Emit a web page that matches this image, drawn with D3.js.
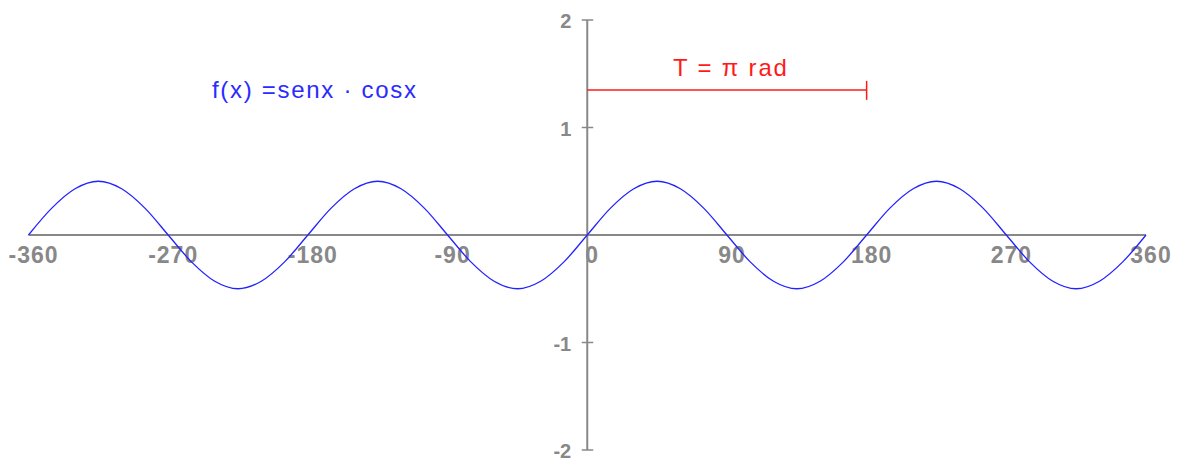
<!DOCTYPE html>
<html>
<head>
<meta charset="utf-8">
<script src="https://cdn.jsdelivr.net/npm/d3@7"></script>
<style>
  body { margin: 0; background: #fff; }
  text { font-family: "Liberation Sans", Arial, sans-serif; }
</style>
</head>
<body>
<div id="chart"></div>
<script>
const xDeg = [-360,-345,-330,-315,-300,-285,-270,-255,-240,-225,-210,-195,
  -180,-165,-150,-135,-120,-105,-90,-75,-60,-45,-30,-15,
  0,15,30,45,60,75,90,105,120,135,150,165,
  180,195,210,225,240,255,270,285,300,315,330,345,360];
const yVal = [0,0.25,0.43,0.5,0.43,0.25,0,-0.25,-0.43,-0.5,-0.43,-0.25,
  0,0.25,0.43,0.5,0.43,0.25,0,-0.25,-0.43,-0.5,-0.43,-0.25,
  0,0.25,0.43,0.5,0.43,0.25,0,-0.25,-0.43,-0.5,-0.43,-0.25,
  0,0.25,0.43,0.5,0.43,0.25,0,-0.25,-0.43,-0.5,-0.43,-0.25,0];
const xTicks = [-360,-270,-180,-90,0,90,180,270,360];
const yTicks = [-2,-1,1,2];
const period = [0, 180]; // T = pi rad
const periodY = 1.35;

const width = 1184, height = 462;
const svg = d3.select("#chart").append("svg")
  .attr("width", width)
  .attr("height", height);

const x = d3.scaleLinear().domain([-360, 360]).range([28.5, 1146]);
const y = d3.scaleLinear().domain([-2, 2]).range([450, 20]);
const grey = "#888888";

// x axis line
svg.append("line")
  .attr("x1", x(-360)).attr("x2", x(360))
  .attr("y1", y(0)).attr("y2", y(0))
  .attr("stroke", grey).attr("stroke-width", 2);

// y axis line
svg.append("line")
  .attr("x1", x(0)).attr("x2", x(0))
  .attr("y1", y(2)).attr("y2", y(-2))
  .attr("stroke", grey).attr("stroke-width", 2);

// y ticks
svg.selectAll(".ytick")
  .data(yTicks)
  .join("line")
  .attr("x1", x(0) - 5.5)
  .attr("x2", x(0) + 6)
  .attr("y1", d => y(d)).attr("y2", d => y(d))
  .attr("stroke", grey).attr("stroke-width", 1.5);

svg.selectAll(".ylab")
  .data(yTicks)
  .join("text")
  .attr("x", x(0) - 16)
  .attr("y", d => y(d) + 8)
  .attr("text-anchor", "end")
  .attr("font-size", 20)
  .attr("font-weight", "bold")
  .attr("fill", grey)
  .text(d => d);

svg.selectAll(".xlab")
  .data(xTicks)
  .join("text")
  .attr("x", d => x(d) + 5)
  .attr("y", y(0) + 28)
  .attr("text-anchor", "middle")
  .attr("font-size", 23)
  .attr("font-weight", "bold")
  .attr("letter-spacing", 1)
  .attr("fill", grey)
  .text(d => d);

// the curve
const line = d3.line()
  .x((d, i) => x(xDeg[i]))
  .y(d => y(d))
  .curve(d3.curveCardinal);

svg.append("path")
  .datum(yVal)
  .attr("d", line)
  .attr("fill", "none")
  .attr("stroke", "#2222ff")
  .attr("stroke-width", 1.3);

// period marker
svg.append("line")
  .attr("x1", x(period[0])).attr("x2", x(period[1]))
  .attr("y1", y(periodY)).attr("y2", y(periodY))
  .attr("stroke", "#ff1a1a").attr("stroke-width", 1.5);
svg.append("line")
  .attr("x1", x(period[1])).attr("x2", x(period[1]))
  .attr("y1", y(periodY) - 9).attr("y2", y(periodY) + 10)
  .attr("stroke", "#ff1a1a").attr("stroke-width", 1.5);

svg.append("text")
  .attr("x", 673).attr("y", 76)
  .attr("font-size", 24)
  .attr("letter-spacing", 1.8)
  .attr("fill", "#ff1a1a")
  .text("T = π rad");

svg.append("text")
  .attr("x", 212).attr("y", 98)
  .attr("font-size", 24)
  .attr("letter-spacing", 1.7)
  .attr("fill", "#2b2bff")
  .text("f(x) =senx · cosx");
</script>
</body>
</html>
